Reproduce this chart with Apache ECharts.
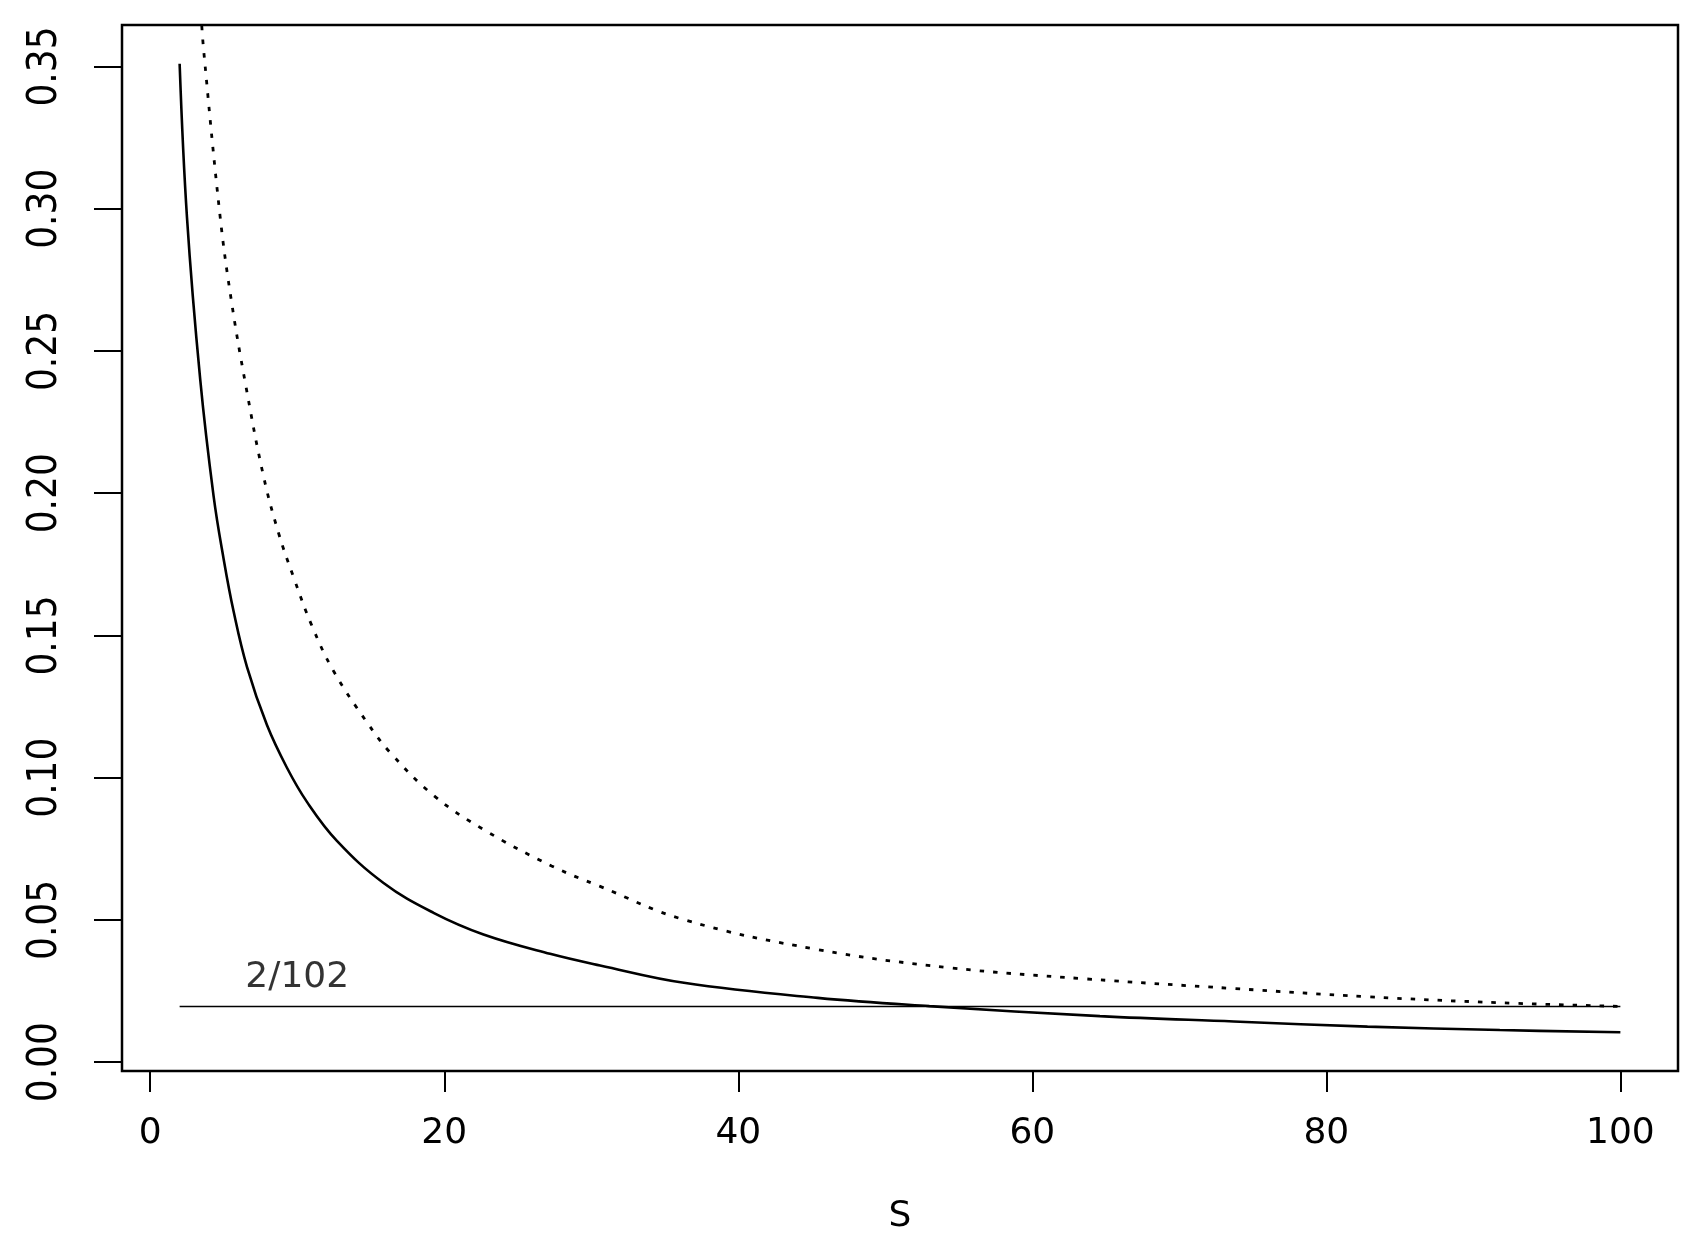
<!DOCTYPE html>
<html>
<head>
<meta charset="utf-8">
<script src="https://cdn.jsdelivr.net/npm/echarts@6/dist/echarts.min.js"></script>
<style>
    html, body { margin: 0; padding: 0; background: #fff; }
    #chart { width: 1704px; height: 1250px; }
</style>
</head>
<body>
<div id="chart"></div>
<script>
/*global echarts*/
// x positions (S), with values for each curve
const solidS = [2, 2.5, 3.4, 4.31, 4.99, 5.67, 6.58, 7.94, 9.3, 10.66, 12.7, 15.87, 19.27, 22.67, 27.2, 30.6, 36.3, 45.4, 53, 64.6, 73.7, 82.8, 91.8, 100];
const solidVal = [0.351, 0.297, 0.240, 0.199, 0.177, 0.1585, 0.139, 0.1185, 0.1035, 0.0915, 0.0778, 0.0630, 0.0525, 0.0449, 0.0381, 0.0340, 0.0279, 0.0226, 0.0197, 0.0162, 0.0143, 0.0125, 0.0113, 0.0105];

const dottedS = [3.45, 3.63, 4.76, 5.51, 6.46, 7.71, 8.73, 9.75, 10.99, 12.47, 14.74, 16.33, 19.27, 22.67, 27.3, 30.6, 36.3, 45.4, 54.4, 63.6, 73.7, 82.8, 91.8, 100];
const dottedVal = [0.369, 0.356, 0.297, 0.268, 0.239, 0.2059, 0.1860, 0.1705, 0.1535, 0.1375, 0.1195, 0.1088, 0.0938, 0.0818, 0.069, 0.0618, 0.0501, 0.0396, 0.0332, 0.0293, 0.0259, 0.0230, 0.0209, 0.0196];

const refS = [2, 100];
const refVal = [0.0196, 0.0196];
const refLabel = '2/102';
const refLabelPos = [10, 0.0297];

const xTicks = [0, 20, 40, 60, 80, 100];
const yTicks = [0, 0.05, 0.10, 0.15, 0.20, 0.25, 0.30, 0.35];
const xTitle = 'S';

const zip = (xs, ys) => xs.map((x, i) => [x, ys[i]]);

const getXAxisOpt = () => ({
    type: 'value',
    min: -1.92,
    max: 103.92,
    name: xTitle,
    nameLocation: 'middle',
    nameGap: 128,
    nameTextStyle: {
        fontFamily: 'DejaVu Sans',
        fontSize: 36,
        color: '#000'
    },
    axisLine: { show: false, onZero: false },
    splitLine: { show: false },
    axisTick: {
        show: true,
        inside: false,
        length: 21,
        customValues: xTicks,
        lineStyle: { color: '#000', width: 2 }
    },
    axisLabel: {
        show: true,
        customValues: xTicks,
        margin: 45,
        fontFamily: 'DejaVu Sans',
        fontSize: 36,
        color: '#000'
    }
});

const getYAxisOpt = () => ({
    type: 'value',
    min: -0.0031,
    max: 0.3646,
    axisLine: { show: false, onZero: false },
    splitLine: { show: false },
    axisTick: {
        show: true,
        inside: false,
        length: 28,
        customValues: yTicks,
        lineStyle: { color: '#000', width: 2 }
    },
    axisLabel: {
        show: true,
        customValues: yTicks,
        rotate: 90,
        margin: 56,
        fontFamily: '"Liberation Sans Narrow", "DejaVu Sans Condensed", sans-serif',
        fontSize: 40,
        color: '#000',
        formatter: v => v.toFixed(2)
    }
});

const settingOption = () => ({
    backgroundColor: '#fff',
    animation: false,
    grid: {
        left: 122,
        right: 26,
        top: 25,
        bottom: 179,
        show: true,
        borderColor: '#000',
        borderWidth: 2.5
    },
    xAxis: getXAxisOpt(),
    yAxis: getYAxisOpt(),
    series: [{
        type: 'line',
        data: zip(solidS, solidVal),
        showSymbol: false,
        smooth: 0.4,
        lineStyle: { color: '#000', width: 2.6 }
    }, {
        type: 'line',
        data: zip(dottedS, dottedVal),
        showSymbol: false,
        smooth: 0.4,
        clip: true,
        lineStyle: { color: '#000', width: 2.8, type: [4.5, 9] }
    }, {
        type: 'line',
        data: zip(refS, refVal),
        showSymbol: false,
        lineStyle: { color: '#000', width: 1.6 }
    }, {
        type: 'scatter',
        data: [refLabelPos],
        symbolSize: 0,
        label: {
            show: true,
            position: 'inside',
            formatter: refLabel,
            fontFamily: 'DejaVu Sans',
            fontSize: 36,
            color: '#000'
        }
    }]
});

const drawChart = () => {
    const myChart = echarts.init(document.getElementById('chart'));
    myChart.setOption(settingOption());
};

drawChart();
</script>
</body>
</html>
